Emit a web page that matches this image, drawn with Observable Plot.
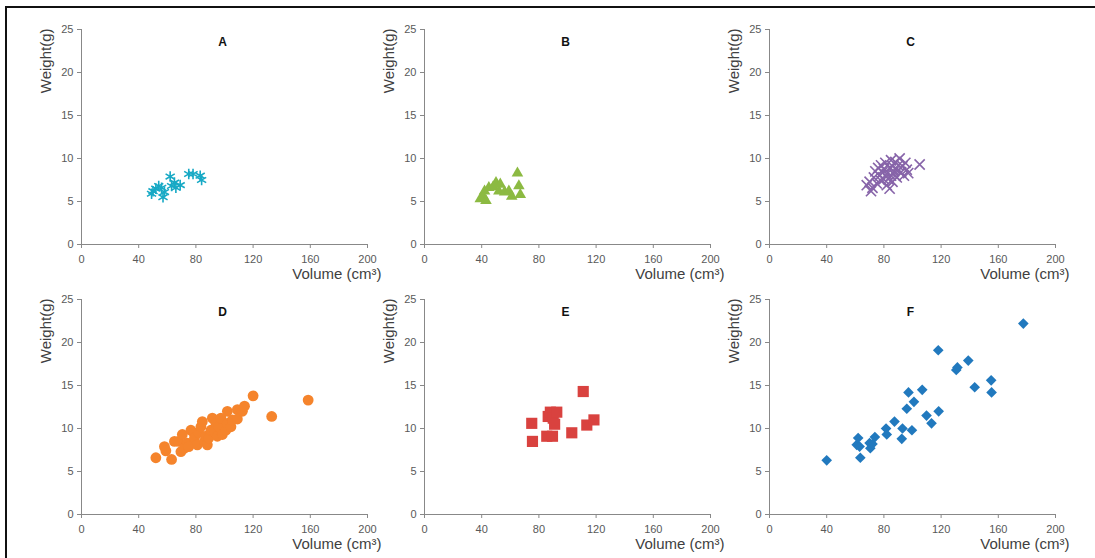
<!DOCTYPE html>
<html><head><meta charset="utf-8">
<script src="https://cdn.jsdelivr.net/npm/d3@7"></script>
<script src="https://cdn.jsdelivr.net/npm/@observablehq/plot@0.6"></script>
<style>
html,body{margin:0;padding:0;background:#fff;}
#fig{position:relative;width:1095px;height:558px;overflow:hidden;background:#fff;}
#fig .panel{position:absolute;}
#fig .frameTop{position:absolute;left:5px;top:6px;width:1090px;height:2px;background:#111;}
#fig .frameLeft{position:absolute;left:5px;top:6px;width:2px;height:552px;background:#111;}
</style></head>
<body><div id="fig"><div class="frameTop"></div><div class="frameLeft"></div></div>
<script>
// ---- data ----
const titles = ["A", "B", "C", "D", "E", "F"];
const xTicks = [0, 40, 80, 120, 160, 200];
const yTicks = [0, 5, 10, 15, 20, 25];
const xLabel = "Volume (cm³)";
const yLabel = "Weight(g)";

const volumeA = [49, 50, 52, 54, 56, 57, 58, 62, 63, 65, 66, 69, 75, 78, 83, 84];
const weightA = [5.9, 6.2, 6.5, 6.8, 6.6, 5.5, 6.1, 7.9, 6.8, 7.2, 6.6, 6.9, 8.2, 8.2, 8.0, 7.5];

const volumeB = [39, 41, 42, 43, 45, 48, 50, 52, 53, 56, 59, 61, 65, 66, 67];
const weightB = [5.3, 5.6, 6.2, 5.1, 6.6, 6.7, 7.2, 6.2, 7.0, 6.1, 6.2, 5.6, 8.3, 6.8, 5.8];

const volumeC = [68, 70, 71, 72, 73, 74, 75, 76, 77, 78, 78, 79, 80, 80, 81, 82, 82, 83, 84, 84, 85, 85, 86, 86, 87, 88, 88, 89, 90, 90, 91, 92, 93, 94, 95, 96, 97, 105];
const weightC = [6.9, 7.3, 6.2, 6.6, 7.8, 8.5, 7.1, 8.9, 8.0, 9.2, 7.4, 8.4, 8.8, 7.6, 9.5, 8.2, 6.9, 7.6, 8.9, 6.5, 9.8, 8.0, 9.1, 7.3, 8.5, 9.6, 8.0, 7.8, 9.2, 8.6, 10.0, 8.4, 9.1, 8.0, 9.5, 8.7, 8.3, 9.3];

const volumeD = [52, 58, 59, 63, 65, 68, 69.5, 70.5, 72, 74, 75, 76.5, 78.5, 79, 81, 82, 83.5, 84.5, 86, 87, 88, 89, 90.5, 91.5, 93, 94, 95, 96, 97.5, 98.5, 101, 102, 102, 104.5, 105.5, 109, 109, 112.5, 114, 120, 133, 158.5];
const weightD = [6.6, 7.9, 7.4, 6.4, 8.5, 8.5, 7.3, 9.3, 7.7, 8.3, 7.9, 9.8, 9.5, 8.9, 8.1, 9.5, 10.2, 10.8, 8.5, 9.1, 8.1, 8.9, 9.8, 11.2, 9.6, 10.6, 9.1, 10.2, 11.2, 9.3, 9.8, 10.6, 12.0, 10.2, 11.0, 12.2, 11.1, 12.0, 12.6, 13.8, 11.4, 13.3];

const volumeE = [75, 75.5, 85.5, 89.5, 86.5, 88, 90, 92.5, 91, 103, 111, 113.5, 118.5];
const weightE = [10.6, 8.5, 9.1, 9.1, 11.4, 11.9, 11.2, 11.9, 10.5, 9.5, 14.3, 10.4, 11.0];

const volumeF = [40, 61, 62, 63.5, 63, 70, 70.5, 72, 73.7, 81.5, 82, 87.4, 93, 92.5, 96, 97.2, 99.6, 101, 106.8, 109.8, 113.3, 118, 118.3, 130.6, 131.4, 139, 143.5, 155, 155.3, 177.5];
const weightF = [6.3, 8.1, 8.9, 6.6, 7.9, 8.3, 7.7, 8.2, 9.0, 10.0, 9.3, 10.8, 10.0, 8.8, 12.3, 14.2, 9.8, 13.1, 14.5, 11.5, 10.6, 19.1, 12.0, 16.8, 17.1, 17.9, 14.8, 15.6, 14.2, 22.2];

const volumes = [volumeA, volumeB, volumeC, volumeD, volumeE, volumeF];
const weights = [weightA, weightB, weightC, weightD, weightE, weightF];

// ---- styles ----
const colors = ["#17A9C5", "#8CBA42", "#8764A9", "#F5842C", "#D9423F", "#2179BE"];
const symbols = ["asterisk", "triangle", "times", "circle", "square", "diamond2"];
const radii = [5, 4.3, 4.7, 5.4, 6.3, 4.8];
const strokeSymbols = [true, false, true, false, false, false];

const axisColor = "#888888";
const tickColor = "#595959";
const labelColor = "#404040";
const font = "'Liberation Sans', Arial, sans-serif";

const ML = 60, MR = 40, MT = 20, MB = 40, PW = 286, PH = 215;
const colLeft = [80.7, 424.3, 768.7];
const rowTop = [29.3, 299.3];

const fig = document.getElementById("fig");

for (let i = 0; i < 6; i++) {
  const data = volumes[i].map((v, j) => ({volume: v, weight: weights[i][j]}));
  const dotOpts = {x: "volume", y: "weight", symbol: () => symbols[i], r: radii[i]};
  if (strokeSymbols[i]) { dotOpts.stroke = colors[i]; dotOpts.strokeWidth = 1.6; dotOpts.fill = "none"; }
  else { dotOpts.fill = colors[i]; dotOpts.stroke = "none"; }
  const svg = Plot.plot({
    width: ML + PW + MR,
    height: MT + PH + MB,
    marginLeft: ML, marginRight: MR, marginTop: MT, marginBottom: MB,
    style: {fontFamily: font, background: "transparent", overflow: "visible"},
    x: {domain: [0, 200]},
    y: {domain: [0, 25]},
    symbol: {type: "identity"},
    marks: [
      Plot.ruleY([0], {stroke: axisColor, strokeWidth: 1}),
      Plot.ruleX([0], {stroke: axisColor, strokeWidth: 1}),
      Plot.axisX({ticks: xTicks, tickSize: 4, tickPadding: 7, stroke: axisColor, fill: tickColor, fontSize: 11, label: null}),
      Plot.axisY({ticks: yTicks, tickSize: 4, tickPadding: 4, stroke: axisColor, fill: tickColor, fontSize: 11, label: null}),
      Plot.dot(data, dotOpts),
      Plot.text([titles[i]], {text: d => d, frameAnchor: "top", lineAnchor: "middle", dy: 12.4, dx: -2, fontWeight: "bold", fontSize: 12, fill: "#111"}),
      Plot.text([yLabel], {text: d => d, frameAnchor: "top-left", lineAnchor: "middle", rotate: -90, textAnchor: "end", dx: -35.7, dy: -1, fontSize: 15, fill: labelColor}),
      Plot.text([xLabel], {text: d => d, frameAnchor: "bottom-right", lineAnchor: "middle", textAnchor: "end", dx: 14, dy: 29.5, fontSize: 15, fill: labelColor})
    ]
  });
  const holder = document.createElement("div");
  holder.className = "panel";
  holder.style.left = (colLeft[i % 3] - ML) + "px";
  holder.style.top = (rowTop[Math.floor(i / 3)] - MT) + "px";
  holder.appendChild(svg);
  fig.appendChild(holder);
}
</script>
</body></html>
